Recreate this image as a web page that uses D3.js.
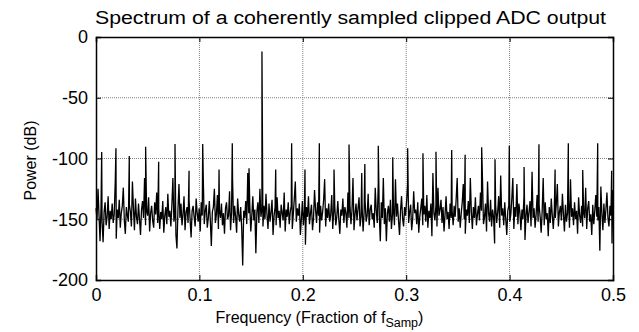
<!DOCTYPE html>
<html>
<head>
<meta charset="utf-8">
<script src="https://cdn.jsdelivr.net/npm/d3@7"></script>
<style>
  body { margin: 0; background: #fff; }
  text { font-family: "Liberation Sans", Arial, sans-serif; fill: #000; }
</style>
</head>
<body>
<div id="chart"></div>
<script>
// noise floor, one value per bin from 0 to 0.5 fs (dB)
const noiseDb = [
  -141,-150,-125,-147,-168,-139,-152,-169,-144,-136,-155,-148,-131,-158,-143,-150,
  -137,-153,-146,-120,-166,-142,-149,-134,-157,-145,-139,-124,-151,-162,-140,-147,
  -152,-138,-144,-156,-119,-141,-159,-133,-148,-154,-137,-150,-163,-142,-135,-149,
  -116,-155,-143,-147,-132,-160,-145,-139,-151,-157,-136,-146,-128,-153,-141,-158,
  -144,-150,-135,-161,-147,-140,-154,-129,-148,-143,-156,-138,-116,-152,-145,-163,
  -174,-142,-121,-149,-137,-155,-146,-131,-159,-144,-140,-153,-134,-150,-165,-143,
  -139,-148,-156,-133,-145,-152,-141,-160,-136,-147,-115,-154,-143,-138,-157,-149,
  -135,-151,-172,-144,-140,-125,-153,-146,-130,-158,-142,-149,-137,-155,-145,-162,
  -141,-136,-150,-147,-127,-159,-144,-118,-153,-139,-148,-161,-133,-146,-152,-140,
  -157,-188,-143,-149,-135,-154,-112,-145,-138,-160,-147,-131,-151,-142,-178,-144,
  -136,-153,-125,-148,-141,-156,-139,-150,-129,-146,-158,-137,-152,-144,-134,-163,
  -147,-140,-155,-132,-149,-143,-157,-138,-145,-151,-128,-160,-142,-148,-136,-154,
  -144,-139,-158,-146,-133,-119,-152,-141,-147,-137,-163,-150,-135,-155,-143,-171,
  -140,-148,-131,-154,-145,-138,-159,-149,-126,-142,-153,-136,-147,-161,-139,-151,
  -144,-134,-117,-156,-141,-149,-137,-152,-146,-130,-158,-143,-139,-155,-148,-135,
  -150,-162,-142,-147,-133,-153,-140,-145,-157,-128,-149,-138,-154,-143,-116,-159,
  -146,-137,-151,-141,-132,-156,-148,-139,-160,-144,-135,-152,-147,-129,-155,-142,
  -138,-150,-145,-157,-124,-143,-153,-120,-147,-168,-136,-149,-116,-154,-141,-168,
  -145,-139,-152,-134,-158,-146,-141,-155,-117,-148,-137,-151,-163,-143,-131,-149,
  -156,-140,-147,-135,-121,-153,-144,-138,-159,-150,-127,-145,-142,-154,-136,-161,
  -148,-141,-133,-155,-146,-139,-152,-130,-157,-143,-149,-137,-164,-112,-145,-151,
  -138,-156,-124,-147,-142,-134,-153,-140,-160,-146,-131,-150,-144,-158,-137,-149,
  -143,-155,-139,-148,-133,-116,-152,-141,-157,-145,-136,-121,-150,-162,-142,-147,
  -135,-153,-116,-144,-158,-140,-149,-132,-155,-146,-139,-151,-128,-143,-117,-154,
  -148,-137,-160,-119,-145,-152,-134,-156,-142,-149,-170,-138,-153,-144,-131,-157,
  -114,-147,-141,-155,-136,-150,-163,-143,-139,-152,-146,-133,-116,-158,-140,-148,
  -121,-154,-137,-145,-159,-142,-150,-131,-167,-147,-138,-153,-144,-135,-156,-111,
  -149,-141,-157,-146,-130,-152,-139,-148,-161,-143,-116,-155,-136,-150,-145,-164,
  -140,-153,-133,-147,-158,-142,-149,-137,-121,-156,-144,-139,-151,-129,-146,-160,
  -138,-152,-145,-134,-157,-117,-148,-141,-155,-136,-150,-143,-162,-132,-147,-153,
  -139,-156,-144,-149,-124,-158,-141,-135,-152,-146,-163,-138,-154,-143,-130,-148,
  -151,-140,-176,-123,-145,-159,-137,-153,-142,-128,-149,-156,-139,-147,-170,-126
];

// harmonic / distortion spurs
const spurFreq = [0.0055,0.0193,0.0322,0.048,0.0606,0.0764,0.09,0.1032,0.119,0.1318,0.148,
  0.1738,0.1892,0.2021,0.216,0.2302,0.2447,0.257,0.260,0.273,0.287,0.3014,0.3162,0.3288,
  0.344,0.357,0.373,0.3859,0.3997,0.414,0.4284,0.444,0.4568,0.4707,0.4852,0.4987];
const spurDb = [-94.6,-91.6,-98,-90.3,-102.6,-88,-110,-88,-109,-87.5,-108,
  -109,-87.5,-109,-87.5,-109,-88.5,-112,-104.5,-89.5,-99,-91.6,-95.7,-94.4,
  -93,-97,-90.8,-100.7,-89.5,-107,-88.3,-109,-87.5,-109.5,-87.5,-110];

// fundamental
const toneFreq = [0.1605];
const toneDb = [-12];

const xTicks = [0, 0.1, 0.2, 0.3, 0.4, 0.5];
const yTicks = [0, -50, -100, -150, -200];

const width = 639, height = 332;
const margin = { top: 37, right: 26, bottom: 52, left: 96 };

const svg = d3.select('#chart').append('svg')
  .attr('width', width)
  .attr('height', height);

const x = d3.scaleLinear().domain([0, 0.5]).range([margin.left, width - margin.right]);
const y = d3.scaleLinear().domain([-200, 0]).range([height - margin.bottom, margin.top]);

// build the trace
const pts = noiseDb.map((d, i) => ({ f: i * 0.5 / (noiseDb.length - 1), db: d }));
spurFreq.forEach((f, i) => pts.push({ f: f, db: spurDb[i] }));
toneFreq.forEach((f, i) => pts.push({ f: f, db: toneDb[i] }));
pts.sort((a, b) => a.f - b.f);

// grid
svg.append('g').selectAll('line')
  .data(xTicks.slice(1, -1))
  .enter().append('line')
    .attr('x1', d => x(d)).attr('x2', d => x(d))
    .attr('y1', y(0)).attr('y2', y(-200))
    .attr('stroke', '#808080').attr('stroke-width', 1)
    .attr('stroke-dasharray', '1,1');
svg.append('g').selectAll('line')
  .data(yTicks.slice(1, -1))
  .enter().append('line')
    .attr('x1', x(0)).attr('x2', x(0.5))
    .attr('y1', d => y(d)).attr('y2', d => y(d))
    .attr('stroke', '#808080').attr('stroke-width', 1)
    .attr('stroke-dasharray', '1,1');

// trace
const line = d3.line().x(d => x(d.f)).y(d => y(d.db));
svg.append('path')
  .datum(pts)
  .attr('d', line)
  .attr('fill', 'none')
  .attr('stroke', '#000')
  .attr('stroke-width', 1.3);

// axes (ticks inward, on all four sides)
const tickLen = 5;
svg.append('g').attr('transform', `translate(0,${y(-200)})`)
  .call(d3.axisBottom(x).tickValues(xTicks).tickSize(-tickLen).tickPadding(8).tickFormat(d => String(d)));
svg.append('g').attr('transform', `translate(0,${y(0)})`)
  .call(d3.axisTop(x).tickValues(xTicks).tickSize(-tickLen).tickFormat(''));
svg.append('g').attr('transform', `translate(${x(0)},0)`)
  .call(d3.axisLeft(y).tickValues(yTicks).tickSize(-tickLen).tickPadding(8).tickFormat(d => String(d)));
svg.append('g').attr('transform', `translate(${x(0.5)},0)`)
  .call(d3.axisRight(y).tickValues(yTicks).tickSize(-tickLen).tickFormat(''));

svg.selectAll('.domain').attr('stroke', '#000').attr('stroke-width', 1.5);
svg.selectAll('.tick line').attr('stroke', '#000');
svg.selectAll('.tick text').style('font-size', '18px').style('font-family', '"Liberation Sans", Arial, sans-serif');

// title and labels
svg.append('text')
  .attr('x', (x(0) + x(0.5)) / 2 - 4)
  .attr('y', 24)
  .attr('text-anchor', 'middle')
  .attr('textLength', 511)
  .attr('lengthAdjust', 'spacingAndGlyphs')
  .style('font-size', '18px')
  .text('Spectrum of a coherently sampled clipped ADC output');

const xl = svg.append('text')
  .attr('x', (x(0) + x(0.5)) / 2 - 35)
  .attr('y', 323)
  .attr('text-anchor', 'middle')
  .style('font-size', '16px');
xl.append('tspan').text('Frequency (Fraction of f');
xl.append('tspan').attr('dy', 4).style('font-size', '12.5px').text('Samp');
xl.append('tspan').attr('dy', -4).text(')');

svg.append('text')
  .attr('transform', `translate(36,${(y(0) + y(-200)) / 2 + 2}) rotate(-90)`)
  .attr('text-anchor', 'middle')
  .style('font-size', '16px')
  .text('Power (dB)');
</script>
</body>
</html>
